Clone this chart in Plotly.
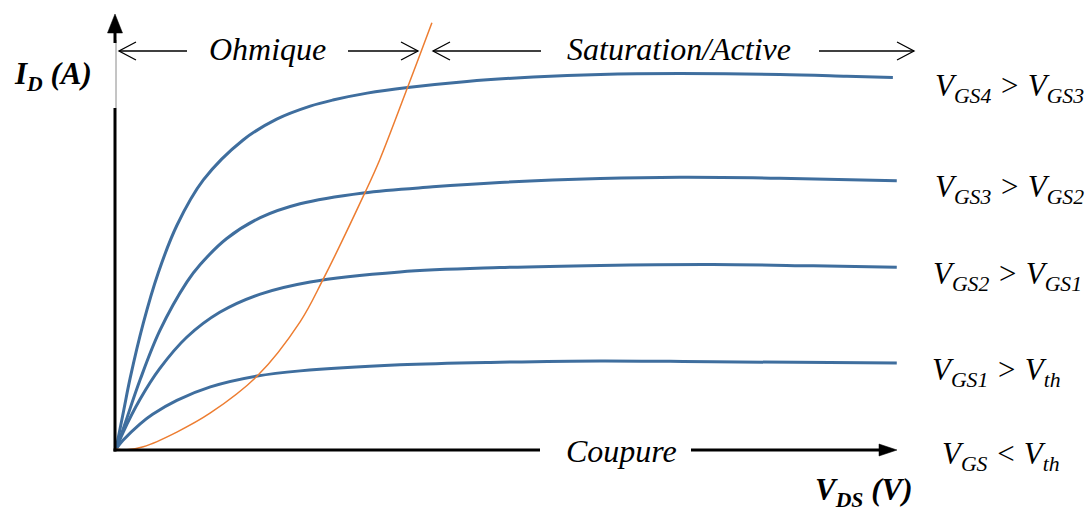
import plotly.graph_objects as go

# Drain current I_D versus drain-source voltage V_DS for four gate voltages
vds_gs4 = [0, 0.10, 0.18, 0.35, 0.54, 0.78, 1.12, 1.63, 2.06, 2.49, 2.78, 3.22, 3.74, 4.50, 5.35, 6.21, 7.23, 8.51, 9.37, 9.96]
id_gs4 = [0, 0.90, 1.62, 2.90, 4.05, 5.15, 6.20, 7.12, 7.60, 7.90, 8.04, 8.20, 8.33, 8.47, 8.57, 8.63, 8.65, 8.63, 8.59, 8.56]

vds_gs3 = [0, 0.09, 0.31, 0.56, 0.91, 1.08, 1.42, 1.85, 2.36, 3.17, 4.06, 4.92, 6.21, 7.23, 8.51, 10.01]
id_gs3 = [0, 0.45, 1.60, 2.72, 3.85, 4.25, 4.85, 5.33, 5.65, 5.90, 6.04, 6.14, 6.23, 6.26, 6.24, 6.18]

vds_gs2 = [0, 0.09, 0.31, 0.56, 0.91, 1.33, 1.85, 2.49, 3.64, 4.92, 6.21, 7.65, 8.94, 10.01]
id_gs2 = [0, 0.38, 1.15, 1.85, 2.58, 3.15, 3.57, 3.85, 4.08, 4.18, 4.23, 4.25, 4.22, 4.19]

vds_gs1 = [0, 0.09, 0.31, 0.47, 0.78, 1.21, 1.81, 2.36, 3.64, 4.92, 6.21, 7.65, 10.01]
id_gs1 = [0, 0.20, 0.58, 0.80, 1.12, 1.43, 1.68, 1.80, 1.94, 2.00, 2.03, 2.01, 1.98]

# Boundary between the ohmic and saturation regions (V_DS = V_GS - V_th)
vds_sat = [0, 0.14, 0.35, 0.78, 1.21, 1.81, 2.36, 2.65, 3.19, 3.38, 3.74, 3.87, 4.05]
id_sat = [0, -0.02, 0.05, 0.39, 0.83, 1.68, 2.93, 3.89, 5.90, 6.66, 8.34, 8.96, 9.82]

curve_labels = ["V<sub>GS4</sub> &gt; V<sub>GS3</sub>",
                "V<sub>GS3</sub> &gt; V<sub>GS2</sub>",
                "V<sub>GS2</sub> &gt; V<sub>GS1</sub>",
                "V<sub>GS1</sub> &gt; V<sub>th</sub>",
                "V<sub>GS</sub> &lt; V<sub>th</sub>"]
region_labels = ["Ohmique", "Saturation/Active", "Coupure"]

W, H = 1090, 508
# pixel placement of the origin and the size of one unit on each axis
OX, OY = 116, 449
SX, SY = 78.0, 43.4

BLUE = "#3F6E9E"
ORANGE = "#ED7D31"
FONT = "Liberation Serif, Times New Roman, serif"


def px(x):
    return x / W


def py(y):
    return 1 - y / H


fig = go.Figure()
for xs, ys in [(vds_gs4, id_gs4), (vds_gs3, id_gs3), (vds_gs2, id_gs2), (vds_gs1, id_gs1)]:
    fig.add_trace(go.Scatter(x=xs, y=ys, mode="lines", line=dict(color=BLUE, width=3, shape="spline", smoothing=1.0),
                             hoverinfo="skip", showlegend=False))
fig.add_trace(go.Scatter(x=vds_sat, y=id_sat, mode="lines", line=dict(color=ORANGE, width=1.5, shape="spline", smoothing=1.0),
                         hoverinfo="skip", showlegend=False))

shapes = []


def seg(x0, y0, x1, y1, width, color="black"):
    shapes.append(dict(type="line", xref="paper", yref="paper", x0=px(x0), y0=py(y0), x1=px(x1), y1=py(y1),
                       line=dict(color=color, width=width)))


def poly(points, fill=None, width=1.3):
    d = "M " + " L ".join(f"{px(a):.5f},{py(b):.5f}" for a, b in points)
    if fill:
        d += " Z"
    shapes.append(dict(type="path", xref="paper", yref="paper", path=d,
                       line=dict(color="black", width=width if not fill else 0.5),
                       fillcolor=fill if fill else "rgba(0,0,0,0)"))


# vertical axis (I_D)
seg(115, 451.5, 115, 108, 3)
seg(116, 108, 116, 40, 1, "#8a8a8a")
seg(115, 43, 115, 30, 3)
poly([(115, 14), (107.5, 33), (122.5, 33)], fill="black")

# horizontal axis (V_DS), interrupted by the cut-off label
seg(113.5, 450, 540, 450, 3)
seg(691, 450, 882, 450, 3)
poly([(879, 444), (897, 450), (879, 456)], fill="black")

# region arrows
ya = 51
for tail, tip in [(187, 119), (348, 418), (541, 433), (819, 914)]:
    seg(tail, ya, tip, ya, 1.3)
    back = tip + (17 if tip < tail else -17)
    poly([(back, ya - 9), (tip, ya), (back, ya + 9)])

fig.update_layout(shapes=shapes)

ann = []


def text(s, x, y, size=31, xanchor="left"):
    ann.append(dict(text=s, xref="paper", yref="paper", x=px(x), y=py(y), xanchor=xanchor, yanchor="middle",
                    showarrow=False, font=dict(family=FONT, size=size, color="black")))


text("<i>" + region_labels[0] + "</i>", 267, 49, 32, "center")
text("<i>" + region_labels[1] + "</i>", 679, 49, 32, "center")
text("<i>" + region_labels[2] + "</i>", 621, 451, 32, "center")

label_y = [88, 189, 276, 372, 456]
label_x = [933, 933, 931, 930, 940]
for s, x, y in zip(curve_labels, label_x, label_y):
    text("<i>" + s + "</i>", x, y, 31)

text("<b><i>I<sub>D</sub> (A)</i></b>", 12, 76, 31)
text("<b><i>V<sub>DS</sub> (V)</i></b>", 813, 492, 31)

fig.update_layout(annotations=ann)

fig.update_layout(
    width=W, height=H,
    margin=dict(l=0, r=0, t=0, b=0),
    paper_bgcolor="white", plot_bgcolor="white",
    font=dict(family=FONT),
    xaxis=dict(range=[-OX / SX, (W - OX) / SX], visible=False, fixedrange=True),
    yaxis=dict(range=[(OY - H) / SY, OY / SY], visible=False, fixedrange=True),
)

fig.write_html("out.html", config=dict(displayModeBar=False))
